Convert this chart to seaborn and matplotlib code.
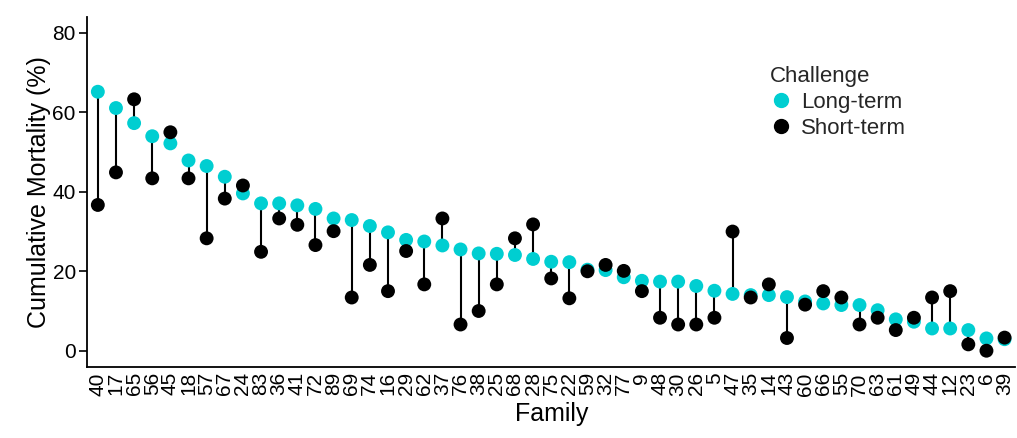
import numpy as np
import pandas as pd
import matplotlib
matplotlib.use("Agg")
import matplotlib.pyplot as plt
import seaborn as sns
from matplotlib.lines import Line2D

# Families ordered by long-term cumulative mortality
families = ["40", "17", "65", "56", "45", "18", "57", "67", "24", "83", "36", "41", "72",
            "89", "69", "74", "16", "29", "62", "37", "76", "38", "25", "68", "28", "75",
            "22", "59", "32", "77", "9", "48", "30", "26", "5", "47", "35", "14", "43",
            "60", "66", "55", "70", "63", "61", "49", "44", "12", "23", "6", "39"]

long_term = [65.2, 61.1, 57.3, 54.0, 52.2, 47.9, 46.5, 43.8, 39.6, 37.1, 37.1, 36.6, 35.7,
             33.3, 32.9, 31.4, 29.8, 27.9, 27.5, 26.5, 25.5, 24.5, 24.4, 24.1, 23.1, 22.4,
             22.3, 20.4, 20.3, 18.5, 17.6, 17.4, 17.4, 16.3, 15.1, 14.3, 14.0, 14.0, 13.5,
             12.4, 11.9, 11.5, 11.5, 10.2, 7.9, 7.3, 5.6, 5.6, 5.2, 3.1, 2.9]

short_term = [36.7, 44.9, 63.3, 43.4, 55.0, 43.4, 28.3, 38.3, 41.6, 24.9, 33.3, 31.7, 26.6,
              30.1, 13.4, 21.6, 15.0, 25.1, 16.7, 33.3, 6.6, 10.0, 16.7, 28.3, 31.8, 18.2,
              13.2, 20.0, 21.6, 20.1, 15.0, 8.3, 6.6, 6.6, 8.3, 30.0, 13.4, 16.7, 3.2,
              11.6, 15.0, 13.4, 6.6, 8.3, 5.2, 8.3, 13.4, 15.0, 1.6, 0.0, 3.3]

challenges = ["Long-term", "Short-term"]
colors = ["#00CED1", "#000000"]
y_ticks = [0, 20, 40, 60, 80]

df = pd.DataFrame({
    "Family": families * 2,
    "Mortality": long_term + short_term,
    "Challenge": [challenges[0]] * len(families) + [challenges[1]] * len(families),
})

sns.set_theme(style="ticks")
plt.rcParams["font.family"] = ["Liberation Sans", "DejaVu Sans"]

fig = plt.figure(figsize=(10.17, 4.38), dpi=100)
ax = fig.add_axes([0.0855, 0.163, 0.913, 0.798])

n = len(families)
# connecting segments between the two challenge results of each family
ax.vlines(np.arange(n), long_term, short_term, color="black", lw=1.5, zorder=1)

sns.stripplot(data=df, x="Family", y="Mortality", hue="Challenge",
              order=families, hue_order=challenges, palette=colors,
              jitter=False, size=10, linewidth=0, legend=False, zorder=2, ax=ax)

ax.set_xlim(-0.6, n - 1 + 0.6)
ax.set_ylim(-4, 84)
ax.set_yticks(y_ticks)
ax.set_yticklabels([str(t) for t in y_ticks])

ax.tick_params(axis="x", length=0, labelrotation=90, labelsize=15, pad=4, colors="black")
ax.tick_params(axis="y", length=6, width=1.2, labelsize=15, pad=2, colors="black")
for side in ["top", "right"]:
    ax.spines[side].set_visible(False)
for side in ["left", "bottom"]:
    ax.spines[side].set_linewidth(1.3)
    ax.spines[side].set_color("black")

ax.set_xlabel("Family", fontsize=18, labelpad=5, color="black")
ax.set_ylabel("Cumulative Mortality (%)", fontsize=18, labelpad=1, color="black")

handles = [Line2D([], [], marker="o", ls="", color=c, markersize=10) for c in colors]
fig.legend(handles, challenges, title="Challenge", loc="upper left",
           bbox_to_anchor=(770 / 1017, 1 - 66 / 438), frameon=False,
           fontsize=16, title_fontsize=16, alignment="left",
           handlelength=1.0, handletextpad=0.4, labelspacing=0.22,
           borderpad=0, borderaxespad=0)

fig.savefig("out.png", dpi=100, facecolor="white")
